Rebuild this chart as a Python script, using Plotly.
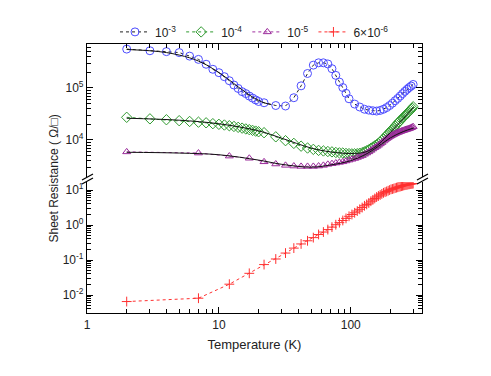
import plotly.graph_objects as go
from plotly.subplots import make_subplots

# 10^-3 data (circles)
t_a = [2, 3, 4, 5, 6, 7, 8, 9, 10, 11, 12, 13, 14, 15, 16, 17, 18, 19, 20,
       22, 27, 32, 37, 42, 47, 52, 57, 62, 67, 72, 77, 82, 87, 92, 97,
       107, 117, 127, 137, 147, 157, 167, 177, 187, 197, 207, 217, 227, 237,
       247, 257, 267, 277, 287, 297]
r_a = [5.6e5, 5.2e5, 5.0e5, 4.8e5, 4.1e5, 3.55e5, 2.86e5, 2.29e5, 1.97e5, 1.65e5,
       1.38e5, 1.14e5, 9.8e4, 8.5e4, 7.8e4, 7.0e4, 6.4e4, 5.9e4, 5.5e4,
       5.2e4, 4.6e4, 4.5e4, 6.5e4, 1.1e5, 1.9e5, 2.75e5, 3.05e5, 3.05e5, 2.9e5,
       2.35e5, 1.75e5, 1.3e5, 1.02e5, 7.9e4, 6.2e4,
       4.9e4, 4.3e4, 3.9e4, 3.75e4, 3.65e4, 3.6e4, 3.7e4, 3.9e4, 4.2e4, 4.6e4,
       5.1e4, 5.7e4, 6.3e4, 7.0e4, 7.8e4, 8.6e4, 9.4e4, 1.02e5, 1.09e5, 1.17e5]

# 10^-4 data (diamonds)
t_b = [2, 3, 4, 5, 6, 7, 8, 9, 10, 11, 12, 13, 14, 15, 16, 17, 18, 19, 20,
       22, 27, 32, 37, 42, 47, 52, 57, 62, 67, 72, 77, 82, 87, 92, 97,
       102, 107, 112, 117, 122, 127, 132, 137, 142, 147, 152, 157, 162, 167,
       172, 177, 182, 187, 192, 197, 202, 207, 212, 217, 222, 227, 232, 237,
       242, 247, 252, 257, 262, 267, 272, 277, 282, 287, 292, 297]
r_b = [2.73e4, 2.55e4, 2.45e4, 2.35e4, 2.27e4, 2.2e4, 2.14e4, 2.06e4, 2.0e4, 1.94e4,
       1.88e4, 1.82e4, 1.75e4, 1.69e4, 1.63e4, 1.58e4, 1.53e4, 1.48e4, 1.44e4,
       1.38e4, 1.15e4, 9.7e3, 8.6e3, 7.6e3, 7.0e3, 6.6e3, 6.3e3, 6.15e3, 6.0e3,
       5.9e3, 5.75e3, 5.65e3, 5.6e3, 5.5e3, 5.45e3,
       5.4e3, 5.4e3, 5.45e3, 5.55e3, 5.7e3, 5.9e3, 6.2e3, 6.5e3, 6.9e3, 7.3e3,
       7.7e3, 8.1e3, 8.6e3, 9.2e3, 9.9e3, 1.06e4, 1.14e4, 1.23e4, 1.32e4, 1.42e4,
       1.52e4, 1.62e4, 1.73e4, 1.85e4, 1.98e4, 2.1e4, 2.22e4, 2.35e4, 2.5e4, 2.62e4,
       2.75e4, 2.9e4, 3.05e4, 3.2e4, 3.35e4, 3.5e4, 3.7e4, 3.9e4, 4.1e4, 4.35e4]

# 10^-5 and 6x10^-6 share temperatures
t_c = [2, 7, 12, 17, 22, 27, 32, 37, 42, 47, 52, 57, 62, 67, 72, 77, 82, 87, 92, 97,
       102, 107, 112, 117, 122, 127, 132, 137, 142, 147, 152, 157, 162, 167,
       172, 177, 182, 187, 192, 197, 202, 207, 212, 217, 222, 227, 232, 237,
       242, 247, 252, 257, 262, 267, 272, 277, 282, 287, 292, 297]
r_c = [5.9e3, 5.6e3, 4.9e3, 4.45e3, 3.8e3, 3.45e3, 3.25e3, 3.15e3, 3.1e3, 3.1e3,
       3.1e3, 3.15e3, 3.25e3, 3.4e3, 3.5e3, 3.6e3, 3.7e3, 3.8e3, 3.95e3, 4.1e3,
       4.25e3, 4.4e3, 4.6e3, 4.8e3, 5.0e3, 5.3e3, 5.6e3, 5.9e3, 6.3e3, 6.7e3,
       7.1e3, 7.5e3, 7.9e3, 8.4e3, 8.9e3, 9.5e3, 1.0e4, 1.06e4, 1.11e4, 1.16e4,
       1.2e4, 1.24e4, 1.28e4, 1.32e4, 1.36e4, 1.39e4, 1.42e4, 1.45e4, 1.48e4, 1.51e4,
       1.53e4, 1.56e4, 1.59e4, 1.61e4, 1.63e4, 1.66e4, 1.69e4, 1.72e4, 1.76e4, 1.8e4]
r_d = [0.0065, 0.0081, 0.0204, 0.0417, 0.0741, 0.107, 0.158, 0.219, 0.288, 0.355,
       0.437, 0.537, 0.631, 0.741, 0.871, 1.02, 1.17, 1.35, 1.55, 1.78,
       2.0, 2.24, 2.51, 2.82, 3.16, 3.55, 3.89, 4.27, 4.79, 5.25,
       5.75, 6.31, 6.76, 7.24, 7.76, 8.32, 8.71, 9.12, 9.55, 10.0,
       10.5, 10.7, 11.0, 11.4, 11.7, 12.0, 12.3, 12.6, 12.9, 13.2,
       13.5, 13.8, 14.0, 14.1, 14.5, 14.6, 14.8, 15.0, 15.1, 15.3]

# fit curves
fit_ta = [2, 3, 4, 5, 6, 7, 8, 9, 10, 12, 14, 16, 18, 20, 22, 25]
fit_ra = [5.5e5, 5.2e5, 4.8e5, 4.3e5, 3.8e5, 3.3e5, 2.8e5, 2.35e5, 1.98e5, 1.42e5,
          1.05e5, 8.2e4, 6.7e4, 5.8e4, 5.2e4, 4.8e4]
fit_t = [2, 5, 10, 20, 30, 50, 70, 100, 130, 160, 200, 250, 300]
fit_rb = [2.62e4, 2.4e4, 2.05e4, 1.5e4, 1.08e4, 7.0e3, 5.9e3, 5.5e3, 5.9e3, 8.0e3,
          1.4e4, 2.55e4, 4.3e4]
fit_rc = [5.8e3, 5.6e3, 5.2e3, 4.1e3, 3.4e3, 3.0e3, 3.3e3, 4.0e3, 5.3e3, 7.4e3,
          1.1e4, 1.45e4, 1.7e4]

names = ["10<sup>-3</sup>", "10<sup>-4</sup>", "10<sup>-5</sup>", "6×10<sup>-6</sup>"]
FONT = "Liberation Sans, Arial, sans-serif"

fig = make_subplots(rows=2, cols=1, shared_xaxes=False, vertical_spacing=0.02)

fig.add_trace(go.Scatter(x=t_a, y=r_a, name=names[0], mode="lines+markers",
                         line=dict(color="#222222", width=1, dash="dot"),
                         marker=dict(symbol="circle-open", size=8, color="#4d4dff",
                                     line=dict(width=1))), row=1, col=1)
fig.add_trace(go.Scatter(x=t_b, y=r_b, name=names[1], mode="lines+markers",
                         line=dict(color="#2f9a2f", width=1, dash="dot"),
                         marker=dict(symbol="diamond-open", size=8, color="#2f9a2f",
                                     line=dict(width=1))), row=1, col=1)
fig.add_trace(go.Scatter(x=t_c, y=r_c, name=names[2], mode="lines+markers",
                         line=dict(color="#a030a0", width=1, dash="dot"),
                         marker=dict(symbol="triangle-up-open", size=7, color="#9a2a9a",
                                     line=dict(width=1))), row=1, col=1)
fig.add_trace(go.Scatter(x=t_c, y=r_d, name=names[3], mode="lines+markers",
                         line=dict(color="#ff3030", width=1, dash="dot"),
                         marker=dict(symbol="cross-thin", size=7, color="#ff3030",
                                     line=dict(width=1, color="#ff3030"))), row=2, col=1)

for tx, ry in [(fit_ta, fit_ra), (fit_t, fit_rb), (fit_t, fit_rc)]:
    fig.add_trace(go.Scatter(x=tx, y=ry, mode="lines", showlegend=False,
                             line=dict(color="#111111", width=1, shape="spline"),
                             hoverinfo="skip"), row=1, col=1)

x_minor = [2, 3, 4, 5, 6, 7, 8, 9, 20, 30, 40, 50, 60, 70, 80, 90, 200, 300]
y_minor_up = [2e3, 3e3, 4e3, 5e3, 6e3, 7e3, 8e3, 9e3, 2e4, 3e4, 4e4, 5e4, 6e4, 7e4,
              8e4, 9e4, 2e5, 3e5, 4e5, 5e5, 6e5, 7e5]
y_minor_lo = [3e-3, 4e-3, 5e-3, 6e-3, 7e-3, 8e-3, 9e-3, 2e-2, 3e-2, 4e-2, 5e-2, 6e-2,
              7e-2, 8e-2, 9e-2, 0.2, 0.3, 0.4, 0.5, 0.6, 0.7, 0.8, 0.9,
              2, 3, 4, 5, 6, 7, 8, 9]

ax_common = dict(type="log", showline=True, linecolor="black", linewidth=1.2,
                 ticks="inside", ticklen=6, tickwidth=1.2, tickcolor="black",
                 showgrid=False, zeroline=False,
                 tickfont=dict(family=FONT, size=12, color="#222222"))
xr = [0, 2.54]
fig.update_xaxes(**ax_common, range=xr, tickvals=[1, 10, 100], ticktext=["1", "10", "100"],
                 minor=dict(tickvals=x_minor, ticks="inside", ticklen=3.5,
                            tickcolor="black", tickwidth=1),
                 mirror=False)
fig.update_xaxes(side="top", showticklabels=False, row=1, col=1)
fig.update_xaxes(title=dict(text="Temperature (K)", font=dict(family=FONT, size=13, color="#222222"),
                            standoff=9), row=2, col=1)

fig.update_yaxes(**ax_common, mirror="ticks")
fig.update_yaxes(range=[3.29, 5.846], tickvals=[1e4, 1e5],
                 ticktext=["10<sup>4</sup>", "10<sup>5</sup>"],
                 minor=dict(tickvals=y_minor_up, ticks="inside", ticklen=3.5,
                            tickcolor="black", tickwidth=1),
                 domain=[0.506, 1], row=1, col=1)
fig.update_yaxes(range=[-2.514, 1.23], tickvals=[1e-2, 1e-1, 1, 10],
                 ticktext=["10<sup>-2</sup>", "10<sup>-1</sup>", "10<sup>0</sup>", "10<sup>1</sup>"],
                 minor=dict(tickvals=y_minor_lo, ticks="inside", ticklen=3.5,
                            tickcolor="black", tickwidth=1),
                 domain=[0, 0.487], row=2, col=1)

# axis break marks
W, H = 335.0, 269.0
for xp in [0.0, 1.0]:
    for dy in [0.0, 4.0]:
        yc = (313 - 181 + dy) / H
        fig.add_shape(type="line", xref="paper", yref="paper",
                      x0=xp - 5 / W, y0=yc - 3 / H, x1=xp + 6 / W, y1=yc + 3 / H,
                      line=dict(color="black", width=1.2))

fig.add_annotation(text="Sheet Resistance ( Ω/□)", textangle=-90, xref="paper", yref="paper",
                   x=(44 - 87) / W, y=0.5, showarrow=False,
                   font=dict(family=FONT, size=12, color="#222222"))

# page body adds an 8px offset, so margins are shifted by that
fig.update_layout(width=491, height=376, plot_bgcolor="white", paper_bgcolor="white",
                  margin=dict(l=79, r=77, t=36, b=71, autoexpand=False),
                  legend=dict(orientation="h", x=0.5, xanchor="center", y=1.045, yanchor="middle",
                              font=dict(family=FONT, size=12, color="#222222"),
                              itemwidth=30, tracegroupgap=0, bgcolor="rgba(0,0,0,0)"))

fig.write_html("out.html")
